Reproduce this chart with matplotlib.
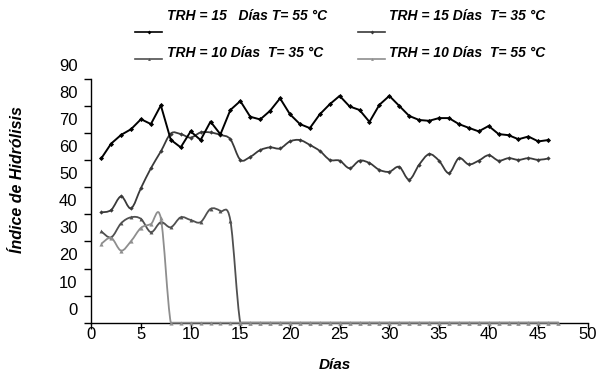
import numpy as np
import matplotlib
matplotlib.use('Agg')
from matplotlib import pyplot as plt
from matplotlib.path import Path
from matplotlib.patches import PathPatch
from matplotlib.lines import Line2D
import matplotlib.transforms as mtransforms

# data (y in axis units, 0 = x axis)
dias_46 = list(range(1, 47))
dias_47 = list(range(1, 48))

trh15_t55 = [60.6, 66.1, 69.3, 71.4, 75.1, 73.3, 80.2, 67.5, 64.7, 70.6,
             67.4, 74.2, 69.5, 78.5, 81.8, 76.0, 75.0, 78.2, 82.8, 76.9,
             73.3, 71.8, 76.9, 80.6, 83.7, 79.8, 78.5, 74.1, 80.4, 83.7,
             80.0, 76.3, 74.8, 74.5, 75.5, 75.5, 73.3, 71.9, 70.6, 72.6,
             69.6, 69.2, 67.7, 68.7, 66.9, 67.4]

trh15_t35 = [40.7, 41.6, 46.6, 42.2, 49.7, 57.0, 63.2, 69.8, 69.6, 68.3,
             70.2, 70.2, 69.3, 67.7, 60.1, 61.2, 63.7, 64.7, 64.3, 66.9,
             67.4, 65.6, 63.4, 60.1, 59.8, 57.0, 59.8, 58.9, 56.4, 55.7,
             57.5, 52.8, 58.3, 62.2, 59.8, 55.2, 60.7, 58.4, 59.8, 61.8,
             59.8, 60.7, 60.1, 60.7, 60.1, 60.6]

trh10_t35 = [33.7, 31.5, 36.7, 38.9, 38.3, 33.4, 37.1, 35.2, 38.9, 37.9,
             37.1, 42.0, 41.2, 37.7] + [0.0] * 33

trh10_t55 = [29.1, 31.3, 26.6, 30.1, 35.0, 36.4, 38.5] + [0.0] * 40

ytick_vals = list(range(0, 100, 10))
xtick_vals = list(range(0, 55, 5))

font = 'Liberation Sans'


def smooth_path(x, y):
    # Excel style smoothed line: cubic Bezier through the points
    x = np.asarray(x, float)
    y = np.asarray(y, float)
    n = len(x)
    verts = [(x[0], y[0])]
    codes = [Path.MOVETO]
    for i in range(n - 1):
        p0 = np.array([x[max(i - 1, 0)], y[max(i - 1, 0)]])
        p1 = np.array([x[i], y[i]])
        p2 = np.array([x[i + 1], y[i + 1]])
        p3 = np.array([x[min(i + 2, n - 1)], y[min(i + 2, n - 1)]])
        c1 = p1 + (p2 - p0) / 6.0
        c2 = p2 - (p3 - p1) / 6.0
        c1[1] = max(c1[1], 0)
        c2[1] = max(c2[1], 0)
        verts += [tuple(c1), tuple(c2), tuple(p2)]
        codes += [Path.CURVE4] * 3
    return Path(verts, codes)


fig = plt.figure(figsize=(5.96, 3.72), dpi=100)
ax = fig.add_axes([91.3 / 596, 1 - 322.7 / 372, 496.7 / 596, 243.9 / 372])

series = [
    (dias_47, trh10_t35, '#505050', '^', 2.8, True),
    (dias_47, trh10_t55, '#8e8e8e', '^', 3.0, True),
    (dias_46, trh15_t35, '#3a3a3a', 'D', 2.2, True),
    (dias_46, trh15_t55, '#000000', 'D', 2.6, False),
]

for xs, ys, col, mk, ms, smooth in series:
    if smooth:
        patch = PathPatch(smooth_path(xs, ys), facecolor='none', edgecolor=col,
                          lw=1.3, clip_on=False, zorder=3)
        ax.add_patch(patch)
        ax.plot(xs, ys, ls='none', marker=mk, ms=ms, color=col, mew=0,
                clip_on=False, zorder=3)
    else:
        ax.plot(xs, ys, color=col, lw=1.4, marker=mk, ms=ms, mew=0,
                clip_on=False, zorder=3)

ax.set_xlim(0, 50)
ax.set_ylim(0, 90)
ax.spines['top'].set_visible(False)
ax.spines['right'].set_visible(False)
ax.spines['left'].set_linewidth(1.0)
ax.spines['bottom'].set_linewidth(1.0)

ax.set_yticks(ytick_vals)
ax.set_xticks(xtick_vals)
ax.tick_params(axis='y', direction='out', length=5, width=1, pad=5,
               labelsize=12)
ax.tick_params(axis='x', direction='out', length=4, width=1, pad=-1,
               labelsize=12)
for lab in ax.get_yticklabels() + ax.get_xticklabels():
    lab.set_fontfamily(font)

# the original chart has its y labels sitting half a step above the ticks
shift = mtransforms.ScaledTranslation(0, 14 / 100, fig.dpi_scale_trans)
for lab in ax.get_yticklabels():
    lab.set_transform(lab.get_transform() + shift)

fig.text(18 / 596, 1 - 180 / 372, 'Índice de Hidrólisis', rotation=90,
         ha='center', va='center', fontsize=11.5, fontweight='bold',
         fontstyle='italic', fontfamily=font)
fig.text(335 / 596, 1 - 365 / 372, 'Días', ha='center', va='center',
         fontsize=11, fontweight='bold', fontstyle='italic', fontfamily=font)

# legend, drawn by hand to follow the original layout
legend = [
    ('TRH = 15   Días T= 55 °C', '#000000', 'D', 135, 32, 167, 16),
    ('TRH = 15 Días  T= 35 °C', '#3a3a3a', 'D', 358, 32, 389, 16),
    ('TRH = 10 Días  T= 35 °C', '#505050', '^', 135, 59, 167, 53),
    ('TRH = 10 Días  T= 55 °C', '#8e8e8e', '^', 358, 59, 389, 53),
]
for txt, col, mk, lx, ly, tx, ty in legend:
    fig.add_artist(Line2D([lx / 596, (lx + 27) / 596], [1 - ly / 372] * 2,
                          color=col, lw=1.2, transform=fig.transFigure))
    fig.add_artist(Line2D([(lx + 13.5) / 596], [1 - ly / 372], color=col,
                          marker=mk, ms=2.0, mew=0, transform=fig.transFigure))
    fig.text(tx / 596, 1 - ty / 372, txt, ha='left', va='center',
             fontsize=10, fontweight='bold', fontstyle='italic',
             fontfamily=font)

fig.savefig('out.png', dpi=100)
